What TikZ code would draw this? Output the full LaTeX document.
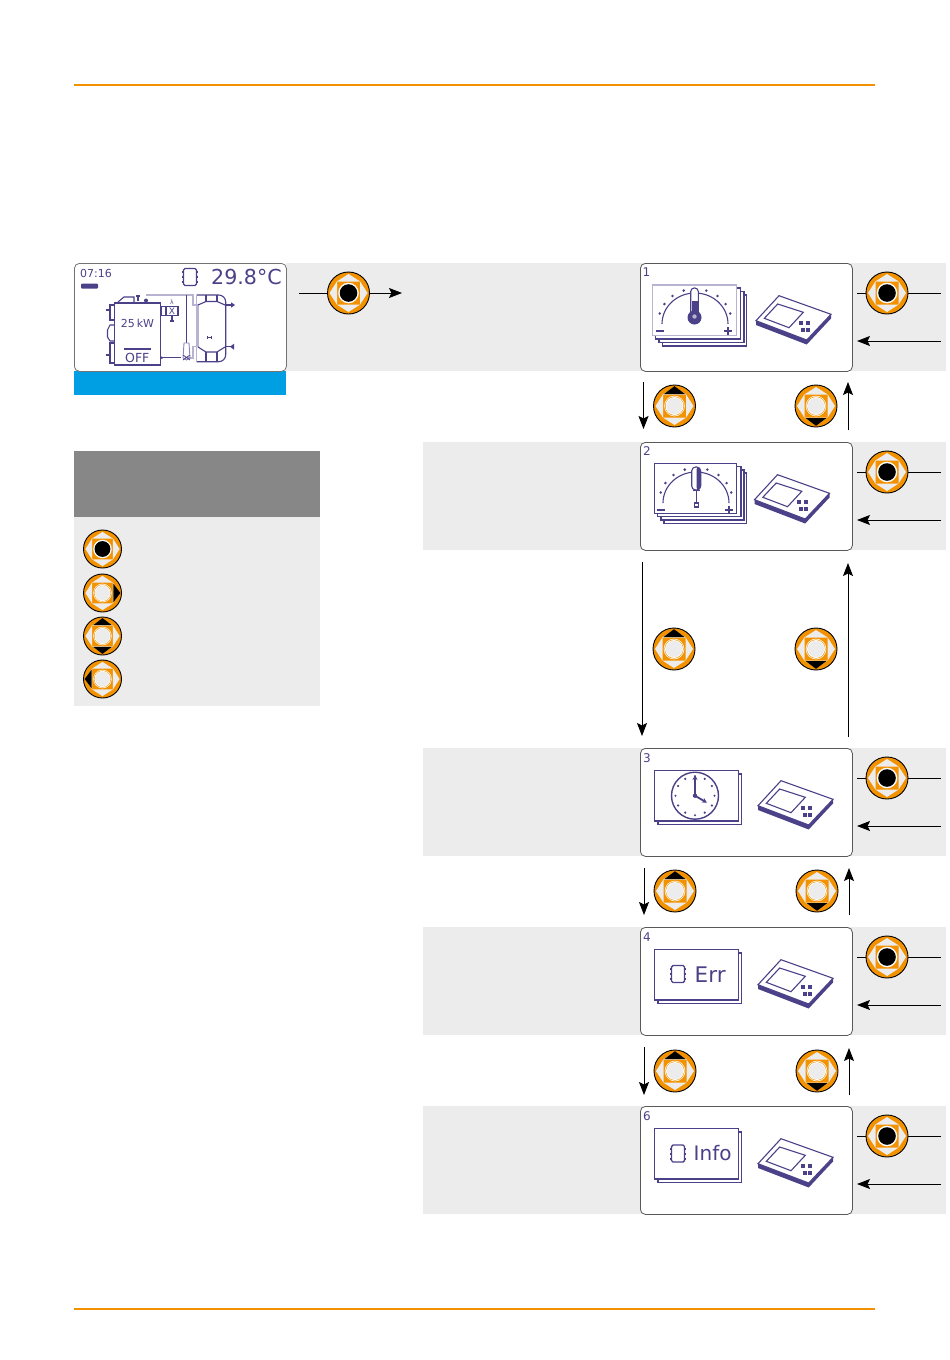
\documentclass[tikz,border=0pt]{standalone}
\usepackage{fontspec}
\usetikzlibrary{arrows.meta}
\newfontfamily\lcdfont{DejaVu Sans}
\definecolor{rulecol}{HTML}{F39200}
\definecolor{bandcol}{HTML}{ECECEC}
\definecolor{bluecol}{HTML}{009FE3}
\definecolor{headcol}{HTML}{878787}
\definecolor{inkcol}{HTML}{4B4189}
\definecolor{paleink}{HTML}{B7B3D1}
\tikzset{
	panelbox/.style={draw=black!65, fill=white, rounded corners=5pt, line width=0.8pt, anchor=north west, minimum width=212pt, minimum height=108pt, inner sep=0pt},
	joybase/.style={circle, draw=black, fill=rulecol, line width=0.9pt, minimum size=42pt, inner sep=0pt},
	joysmall/.style={joybase, minimum size=38pt},
	lead/.style={line width=0.9pt},
	leadarrow/.style={line width=0.9pt, -{Stealth[length=13pt,width=10pt,inset=2.5pt]}},
	ink/.style={draw=inkcol, line width=1.1pt},
	lcdtext/.style={text=inkcol, inner sep=0pt}
}
% joystick drawn over its base node: [scale](node){centre colour}
\def\joystick[#1](#2)#3{
	\begin{scope}[shift={(#2)}, scale=#1]
		\foreach \ang in {0, 90, 180, 270}
			\fill[bandcol, rotate=\ang] (11.5, -11.7) -- (19, 0) -- (11.5, 11.7) -- cycle;
		\fill[white] (0, 0) circle (10.3);
		\ifx#3k
			\fill[black] (0, 0) circle (8.8);
		\else
			\fill[rulecol] (0, 0) circle (9.6);
			\fill[white] (0, 0) circle (9);
			\fill[bandcol] (0, 0) circle (8.2);
		\fi
	\end{scope}
}
\def\joydark[#1](#2)#3{\fill[black, shift={(#2)}, scale=#1, rotate=#3] (12, -10.5) -- (19.8, 0) -- (12, 10.5) -- cycle;}
\def\chipicon(#1){
	\begin{scope}[shift={(#1)}]
		\draw[ink, line width=1.4pt, rounded corners=1.5pt] (-6.5, -8.5) rectangle (6.5, 8.5);
		\foreach \yy in {-5, 0, 5} {
			\fill[inkcol] (-8.2, \yy-1) rectangle (-6.5, \yy+1);
			\fill[inkcol] (6.5, \yy-1) rectangle (8.2, \yy+1);
		}
	\end{scope}
}
\def\deviceicon(#1){
	\begin{scope}[shift={(#1)}]
		\fill[inkcol] (116, 57.7) -- (116, 62) -- (166.7, 81.5) -- (191, 55.5) -- (191, 51.3) -- (166.7, 77) -- cycle;
		\draw[ink, fill=white] (139, 32.7) -- (191, 51.3) -- (166.7, 77) -- (116, 57.7) -- cycle;
		\draw[ink, fill=white] (137.7, 41) -- (163.3, 49.3) -- (149, 64.7) -- (124.3, 55.3) -- cycle;
		\foreach \xx/\yy in {160.7/60.3, 167.7/59.7, 162.7/67, 167.7/67}
			\fill[inkcol] (\xx-2, \yy-2) rectangle (\xx+2, \yy+2);
	\end{scope}
}
\def\dialicon#1{
	\draw[ink] (#1-33, 61) arc (180:360:33 and 31);
	\foreach \ang in {15, 33, 52, 72, 108, 128, 147, 165}
		\fill[inkcol] ({#1+36.5*cos(\ang)}, {59-33*sin(\ang)}) circle (1.4);
	\fill[inkcol] (#1-39, 66.6) rectangle (#1-31, 68.6);
	\fill[inkcol] (#1+29, 66.6) rectangle (#1+37, 68.6);
	\fill[inkcol] (#1+32, 64) rectangle (#1+34, 72);
}
\begin{document}
\begin{tikzpicture}[x=1pt, y=-1pt]
	\useasboundingbox (0, 0) rectangle (950, 1360);
	%%%%% page frame %%%%%
	\fill[white] (0, 0) rectangle (950, 1360);
	\draw[rulecol, line width=2pt] (74, 85) -- (875, 85);
	\draw[rulecol, line width=2pt] (74, 1308.5) -- (875, 1308.5);
	
	%%%%% bands %%%%%
	\fill[bandcol] (286, 263) rectangle (946, 371);
	\fill[bandcol] (423, 442) rectangle (946, 550);
	\fill[bandcol] (423, 748) rectangle (946, 856);
	\fill[bandcol] (423, 927) rectangle (946, 1035);
	\fill[bandcol] (423, 1106) rectangle (946, 1214);
	\fill[bluecol] (74, 371) rectangle (286, 394.5);
	\fill[headcol] (74, 451) rectangle (319.5, 517);
	\fill[bandcol] (74, 517) rectangle (319.5, 705.5);
	
	%%%%% display %%%%%
	\node[panelbox, draw=black!55] (display) at (74, 263) {};
	\node[lcdtext, anchor=west, font=\lcdfont\fontsize{11}{13}\selectfont] (clockText) at (80, 273) {07:16};
	\fill[inkcol, rounded corners=1pt] (81, 283.5) rectangle (98, 288.5);
	\chipicon(190, 277)
	\node[lcdtext, anchor=west, font=\lcdfont\fontsize{20.6}{24}\selectfont] (tempText) at (211, 277) {29.8°C};
	
	\draw[paleink, line width=1.3pt] (146, 295) -- (193, 295) -- (193, 305) -- (198, 305) -- (198, 346.7) -- (193, 346.7) -- (193, 358) -- (188, 358);
	\draw[ink] (186.7, 295) -- (186.7, 343);
	\draw[ink] (161.7, 357.7) -- (181, 357.7);
	\fill[inkcol] (161.7, 357.7) circle (1.4);
	\draw[ink, paleink!60!inkcol, line width=0.9pt] (183, 358) -- (184, 343) -- (189, 343) -- (190, 358) -- (186.5, 360) -- (183, 358);
	\draw[ink, line width=0.8pt] (183, 355) -- (190, 360) (190, 355) -- (183, 360);
	
	\draw[ink] (114.3, 302.7) rectangle (160.7, 365);
	\draw[inkcol, line width=2pt] (114.3, 302.7) -- (160.7, 302.7) (114.3, 365) -- (160.7, 365);
	\draw[ink] (118, 302) -- (124, 297) -- (134, 297) -- (134, 302);
	\draw[ink] (136, 296) -- (140, 296) (138, 296) -- (138, 301);
	\fill[inkcol] (146, 300.5) circle (2);
	\draw[ink] (114, 305) -- (110, 305) -- (110, 320) -- (114, 320) (105.5, 310) -- (110, 310);
	\draw[ink] (114, 325) -- (110, 325) -- (107.5, 330) -- (107.5, 337) -- (110, 341) -- (114, 341);
	\draw[ink] (114, 343) -- (110, 343) -- (110, 363) -- (114, 363) (105.5, 355) -- (110, 355);
	\draw[ink] (161, 306.7) rectangle (178, 315.7) (166, 306.7) -- (166, 315.7);
	\node[lcdtext, font=\lcdfont\fontsize{9}{10}\selectfont] (xText) at (172, 311.2) {X};
	\node[lcdtext, font=\lcdfont\fontsize{6}{7}\selectfont] (lambdaText) at (172, 302.5) {λ};
	\draw[ink] (172, 316) -- (172, 321) (170, 321) -- (174, 321);
	\node[lcdtext, font=\lcdfont\fontsize{11}{13}\selectfont] (powerText) at (137.5, 323.5) {25\,kW};
	\draw[inkcol, line width=1.3pt] (124, 349) -- (150.7, 349);
	\node[lcdtext, font=\lcdfont\fontsize{12.5}{14}\selectfont] (offText) at (137.3, 357.5) {OFF};
	
	\draw[ink, rounded corners=7pt] (196.7, 295) -- (225.7, 295) -- (225.7, 361.7) -- (196.7, 361.7);
	\draw[paleink, line width=1.3pt, rounded corners=7pt] (196.7, 361.7) -- (196.7, 295);
	\draw[ink] (198, 305) -- (206, 301.5) -- (217, 301.5) -- (225, 305);
	\draw[ink] (206, 295) -- (206, 301.5) (217, 295) -- (217, 301.5);
	\draw[ink] (198, 347) -- (206, 352) -- (217, 352) -- (225, 347);
	\draw[ink] (206, 352) -- (206, 361.7) (217, 352) -- (217, 361.7);
	\draw[ink] (225.7, 305) -- (232, 305);
	\fill[inkcol] (231, 302.3) -- (235, 305) -- (231, 307.7) -- cycle;
	\draw[ink] (225.7, 346.7) -- (231, 346.7);
	\fill[inkcol] (234, 343.7) -- (230, 346.7) -- (234, 349.7) -- cycle;
	\draw[ink, line width=0.8pt] (207, 337.5) -- (211.5, 337.5) (207, 336) -- (207, 339) (211.5, 336) -- (211.5, 339);
	
	%%%%% panel 1 %%%%%
	\node[panelbox] (panelA) at (640, 263) {};
	\begin{scope}[shift={(640, 263)}]
		\node[lcdtext, font=\lcdfont\fontsize{12}{14}\selectfont] (numA) at (6.5, 9) {1};
		\draw[ink, fill=white] (22.5, 32) rectangle (106.7, 83);
		\draw[ink, fill=white] (19, 28.5) rectangle (104, 79.5);
		\draw[ink, fill=white] (15.7, 25) rectangle (100.7, 76);
		\draw[draw=paleink, line width=1.3pt, fill=white] (12.7, 22) rectangle (96.7, 72.7);
		\dialicon{55}
		\draw[ink, fill=white, rounded corners=3.5pt] (50.7, 25) rectangle (58.3, 52);
		\fill[inkcol] (51.5, 38) rectangle (57.5, 50);
		\fill[inkcol] (54.5, 54.5) circle (7);
		\fill[paleink] (54.5, 53.5) circle (2.2);
		\deviceicon(0, 0)
	\end{scope}
	
	%%%%% panel 2 %%%%%
	\node[panelbox] (panelB) at (640, 442) {};
	\begin{scope}[shift={(640, 442)}]
		\node[lcdtext, font=\lcdfont\fontsize{12}{14}\selectfont] (numB) at (7, 9.5) {2};
		\draw[ink, fill=white] (24, 31) rectangle (106.7, 81.3);
		\draw[ink, fill=white] (21, 28) rectangle (104, 78);
		\draw[ink, fill=white] (17.5, 24.5) rectangle (101, 74.7);
		\draw[ink, fill=white] (14.3, 21.3) rectangle (96.7, 71.3);
		\dialicon{56}
		\draw[ink, fill=white, rounded corners=4pt] (51.7, 25) rectangle (60.7, 48);
		\fill[inkcol, rounded corners=2pt] (56.5, 25.5) rectangle (60.3, 47.5);
		\draw[ink] (53, 48.5) -- (59.5, 48.5) (56.3, 48.5) -- (56.3, 61);
		\draw[ink] (54.3, 61) rectangle (58.3, 65);
		\deviceicon(-1.5, 0)
	\end{scope}
	
	%%%%% panel 3 %%%%%
	\node[panelbox] (panelC) at (640, 748) {};
	\begin{scope}[shift={(640, 748)}]
		\node[lcdtext, font=\lcdfont\fontsize{12}{14}\selectfont] (numC) at (7, 10) {3};
		\draw[ink, fill=white] (18, 26) rectangle (101.7, 76.3);
		\draw[ink, fill=white] (14.3, 22.7) rectangle (98.7, 73);
		\draw[ink, line width=1.4pt] (55, 47.7) circle (23.5);
		\foreach \ang in {0, 30, ..., 330}
			\fill[inkcol] ({55+19.5*cos(\ang)}, {47.7+19.5*sin(\ang)}) circle (1.2);
		\draw[inkcol, line width=1.8pt, -{Stealth[length=5pt,width=5pt]}] (55, 47.7) -- (55, 27);
		\draw[inkcol, line width=1.8pt, -{Stealth[length=5pt,width=5pt]}] (55, 47.7) -- (67, 54.7);
		\fill[inkcol] (55, 47.7) circle (2.2);
		\deviceicon(2, 0)
	\end{scope}
	
	%%%%% panel 4 %%%%%
	\node[panelbox] (panelD) at (640, 927) {};
	\begin{scope}[shift={(640, 927)}]
		\node[lcdtext, font=\lcdfont\fontsize{12}{14}\selectfont] (numD) at (7, 10) {4};
		\draw[ink, fill=white] (18, 26) rectangle (101.7, 76.3);
		\draw[ink, fill=white] (14.3, 22.7) rectangle (98.7, 73);
		\chipicon(38, 47)
		\node[lcdtext, anchor=west, font=\lcdfont\fontsize{21.5}{25}\selectfont] (errText) at (54.5, 47.5) {Err};
		\deviceicon(2, 0)
	\end{scope}
	
	%%%%% panel 6 %%%%%
	\node[panelbox] (panelE) at (640, 1106) {};
	\begin{scope}[shift={(640, 1106)}]
		\node[lcdtext, font=\lcdfont\fontsize{12}{14}\selectfont] (numE) at (7, 10) {6};
		\draw[ink, fill=white] (18, 26) rectangle (101.7, 76.3);
		\draw[ink, fill=white] (14.3, 22.7) rectangle (98.7, 73);
		\chipicon(38, 47.5)
		\node[lcdtext, anchor=west, font=\lcdfont\fontsize{20}{24}\selectfont] (infoText) at (53.5, 47.5) {Info};
		\deviceicon(2, 0)
	\end{scope}
	
	%%%%% joystick bases %%%%%
	\node[joybase] (joyStart) at (348.5, 293) {};
	\node[joybase] (joyOkA) at (887, 293) {};
	\node[joybase] (joyOkB) at (887, 472) {};
	\node[joybase] (joyOkC) at (887, 778) {};
	\node[joybase] (joyOkD) at (887, 957) {};
	\node[joybase] (joyOkE) at (887, 1136) {};
	\node[joybase] (joyDownA) at (674.5, 406) {};
	\node[joybase] (joyUpA) at (816, 406) {};
	\node[joybase] (joyDownB) at (674, 649) {};
	\node[joybase] (joyUpB) at (816, 649) {};
	\node[joybase] (joyDownC) at (675, 891) {};
	\node[joybase] (joyUpC) at (817, 891) {};
	\node[joybase] (joyDownD) at (675, 1071) {};
	\node[joybase] (joyUpD) at (817, 1071) {};
	\node[joysmall] (keyOk) at (102.5, 549) {};
	\node[joysmall] (keyRight) at (102.5, 593) {};
	\node[joysmall] (keyVert) at (102.5, 636) {};
	\node[joysmall] (keyLeft) at (102.5, 679) {};
	
	\joystick[1](joyStart){k}
	\joystick[1](joyOkA){k}
	\joystick[1](joyOkB){k}
	\joystick[1](joyOkC){k}
	\joystick[1](joyOkD){k}
	\joystick[1](joyOkE){k}
	\foreach \nm in {joyDownA, joyDownB, joyDownC, joyDownD} {
		\joystick[1](\nm){o}
		\joydark[1](\nm){90}
	}
	\foreach \nm in {joyUpA, joyUpB, joyUpC, joyUpD} {
		\joystick[1](\nm){o}
		\joydark[1](\nm){270}
	}
	\joystick[0.9](keyOk){k}
	\joystick[0.9](keyRight){o}
	\joydark[0.9](keyRight){0}
	\joystick[0.9](keyVert){o}
	\joydark[0.9](keyVert){90}
	\joydark[0.9](keyVert){270}
	\joystick[0.9](keyLeft){o}
	\joydark[0.9](keyLeft){180}
	
	%%%%% connectors %%%%%
	\coordinate (startIn) at (299, 293);
	\coordinate (startOut) at (402, 293);
	\draw[lead] (startIn) -- (joyStart);
	\draw[leadarrow] (joyStart) -- (startOut);
	
	\foreach \nm/\yy in {A/293, B/472, C/778, D/957, E/1136} {
		\coordinate (okIn\nm) at (857, \yy);
		\coordinate (okOut\nm) at (941, \yy);
		\coordinate (backIn\nm) at (941, \yy+48);
		\coordinate (backOut\nm) at (857, \yy+48);
		\draw[lead] (okIn\nm) -- (joyOk\nm) -- (okOut\nm);
		\draw[leadarrow] (backIn\nm) -- (backOut\nm);
	}
	
	\foreach \nm/\xa/\ya/\yb/\xb/\yc/\yd in {A/643.5/382/429/848/430/382, B/642/562/736/848/737/563, C/644/868/915/849/915/868, D/644/1047/1095/849/1095/1048} {
		\coordinate (downIn\nm) at (\xa, \ya);
		\coordinate (downOut\nm) at (\xa, \yb);
		\coordinate (upIn\nm) at (\xb, \yc);
		\coordinate (upOut\nm) at (\xb, \yd);
		\draw[leadarrow] (downIn\nm) -- (downOut\nm);
		\draw[leadarrow] (upIn\nm) -- (upOut\nm);
	}
\end{tikzpicture}
\end{document}
